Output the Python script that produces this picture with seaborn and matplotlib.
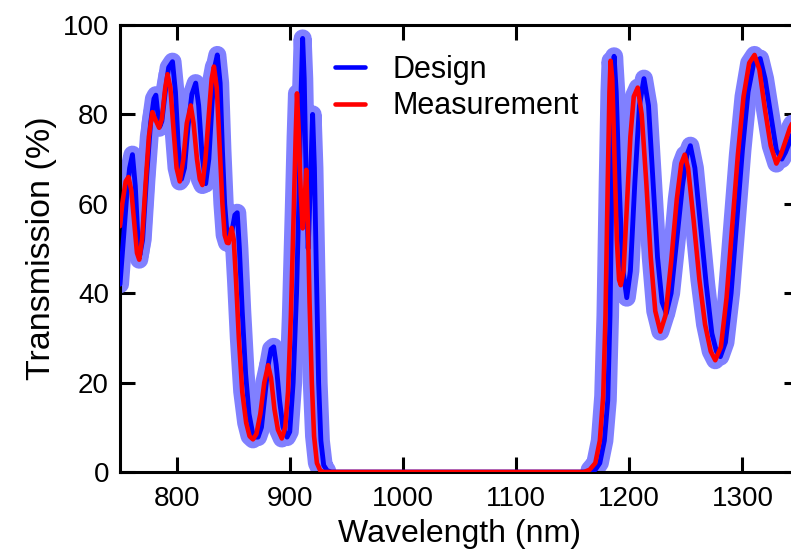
import numpy as np
import pandas as pd
import matplotlib
matplotlib.use("Agg")
import matplotlib.pyplot as plt
import seaborn as sns

# ---------------- data ----------------
design_wl = [750, 753, 756, 758.5, 761, 763.5, 765.5, 767.5, 770, 773.5, 777, 780, 781.7,
             783.5, 785.2, 787, 790, 793, 796.4, 799, 801.5, 804.3, 807, 810, 813.5, 816.9,
             819.5, 822.5, 825.7, 828.5, 831.5, 834, 836, 838.5, 840.5, 842.5, 844.5, 846.5,
             849, 851.5, 853.6, 855.5, 858, 861, 864, 867, 869.5, 872, 875, 878, 881, 883.5,
             885.8, 888, 891, 894, 897.6, 900, 903, 906, 908.5, 910, 911.4, 912.8, 914.5,
             916.3, 918.3, 920.2, 921.8, 923.5, 925.5, 927.5, 930, 933, 937,
             1160, 1165, 1170, 1174, 1178, 1181, 1183, 1185, 1186.6, 1188.5, 1191, 1194,
             1197.8, 1201, 1205, 1209, 1213, 1217, 1221, 1225, 1229, 1232.7, 1237, 1242,
             1247, 1251, 1254, 1258, 1263, 1268, 1273, 1277, 1280.5, 1285, 1290, 1295, 1300,
             1305, 1310, 1315.7, 1320, 1325, 1330, 1334.8, 1338, 1342, 1346, 1350]
design_T = [42, 52, 62, 68, 71, 64, 54, 48.5, 52, 66, 78, 83.5, 84.3,
            80, 77.3, 78.5, 85, 90.5, 91.8, 85, 73, 65.5, 68, 77, 84.5, 87,
            82, 71, 64.5, 70, 83, 91, 93.3, 87, 72, 60, 53.5, 52,
            54, 57.5, 58, 50, 36, 22, 13, 9, 7.8, 7.8, 10, 17, 24, 27.5,
            28, 24, 16, 10, 7.8, 9, 20, 40, 65, 85, 97, 88, 65,
            50, 65, 80, 68, 45, 20, 7, 1.5, 0.3, 0,
            0, 0, 0.5, 2, 7, 16, 35, 70, 93, 85, 65, 46,
            39, 45, 65, 82, 88, 82, 65, 48, 38, 35.5, 40, 52,
            64, 71, 73, 68, 55, 42, 31, 27, 25.8, 29, 40, 56, 72,
            85, 91.5, 92.5, 88, 80, 72, 70, 71.5, 74, 77, 80]

measured_wl = [750, 752, 755, 757.5, 760, 762.5, 765, 767, 769.5, 772.5, 775.5, 778.6, 781,
               784.6, 787, 790, 792, 794.5, 797.5, 800, 802.8, 806, 809, 812.5, 815, 818,
               820.5, 822.8, 825.5, 828.5, 831, 833, 835.5, 838, 840.5, 842.5, 844.5, 846,
               848.6, 850.5, 852.5, 855, 858, 861.5, 864.5, 867.5, 870.5, 874, 877.5, 880.9,
               883.5, 886.5, 889.5, 893, 896, 898.5, 901, 903.5, 905.2, 906.4, 908, 909.8,
               911.4, 913, 914.6, 916, 917.5, 919.5, 921.5, 924, 927, 930,
               1160, 1165, 1170, 1174, 1177, 1179, 1181, 1182.5, 1183.5, 1185, 1187, 1189,
               1191, 1192.5, 1195, 1198, 1201, 1204, 1207.5, 1211, 1215, 1219, 1223, 1227.5,
               1232, 1237, 1242, 1246, 1249, 1252, 1257, 1262, 1267, 1272, 1276, 1281, 1286,
               1291, 1296, 1301, 1306, 1310.7, 1315, 1320, 1325, 1330, 1334, 1338, 1342,
               1346, 1350]
measured_T = [55, 60, 65, 66, 63, 56, 49, 47.5, 52, 64, 75, 80.5, 79,
              77, 79, 86, 89, 86, 76, 68, 65, 70, 78, 82, 78, 70,
              65.5, 64.2, 70, 80, 88, 90.7, 86, 73, 60, 53, 51.3, 51.2,
              54.6, 52, 43, 30, 18, 11, 8, 7.3, 8.5, 13, 20, 23.9,
              21, 14, 9.5, 7.5, 10, 18, 35, 58, 75, 84.7, 76, 62,
              54.5, 60, 67.6, 56, 38, 20, 8, 2, 0.3, 0,
              0, 0.5, 2, 7, 17, 35, 65, 85, 92, 88, 70, 52,
              43, 41.8, 45, 60, 75, 84, 86, 80, 65, 48, 36, 31.4,
              35, 47, 61, 69, 71, 68, 56, 43, 33, 27, 25, 28, 39,
              55, 71, 84, 91.5, 93.3, 90, 81, 73, 69, 71, 74, 77,
              79, 82]

x_ticks = [800, 900, 1000, 1100, 1200, 1300]
y_ticks = [0, 20, 40, 60, 80, 100]

# ---------------- figure ----------------
sns.set_theme(style="ticks")
plt.rcParams["font.family"] = ["Liberation Sans", "DejaVu Sans"]
plt.rcParams["text.color"] = "black"
plt.rcParams["axes.labelcolor"] = "black"
plt.rcParams["xtick.color"] = "black"
plt.rcParams["ytick.color"] = "black"

fig = plt.figure(figsize=(7.91, 5.52), dpi=100)
ax = fig.add_axes([120 / 791, 80 / 552, 679 / 791, 447 / 552])

design = pd.DataFrame({"wl": design_wl, "T": design_T})
measured = pd.DataFrame({"wl": measured_wl, "T": measured_T})

# spread of simulated curves: light, thick copies where transmission is non-zero
band_d = design.copy()
band_d.loc[band_d["T"] <= 0.01, "T"] = np.nan
band_m = measured.copy()
band_m.loc[band_m["T"] <= 0.01, "T"] = np.nan
for b in (band_d, band_m):
    ax.plot(b["wl"], b["T"], color="#8080ff", lw=13, solid_capstyle="round",
            solid_joinstyle="round", zorder=1)

sns.lineplot(data=design, x="wl", y="T", ax=ax, color="#0000ff", lw=3.5,
             estimator=None, sort=False, label="Design", zorder=3)
sns.lineplot(data=measured, x="wl", y="T", ax=ax, color="#ff0000", lw=3.3,
             estimator=None, sort=False, label="Measurement", zorder=4)

ax.set_xlim(750, 1350)
ax.set_ylim(0, 100)
ax.set_xticks(x_ticks)
ax.set_yticks(y_ticks)
ax.tick_params(direction="in", top=True, right=True, length=10.5, width=2.2,
               labelsize=20, pad=8, colors="black")
ax.tick_params(axis="x", pad=10)
for s in ax.spines.values():
    s.set_linewidth(2.2)
    s.set_color("black")
ax.set_xlabel("Wavelength (nm)", fontsize=23, labelpad=5, color="black")
ax.set_ylabel("Transmission (%)", fontsize=24.5, labelpad=4, color="black")

leg = ax.legend(loc="upper left", bbox_to_anchor=(0.298, 0.96), frameon=False,
                fontsize=22, handlelength=1.0, handletextpad=0.9, labelspacing=0.2,
                borderaxespad=0)
for h in leg.get_lines():
    h.set_linewidth(3.3)
for t in leg.get_texts():
    t.set_color("black")

fig.savefig("out.png", dpi=100)
